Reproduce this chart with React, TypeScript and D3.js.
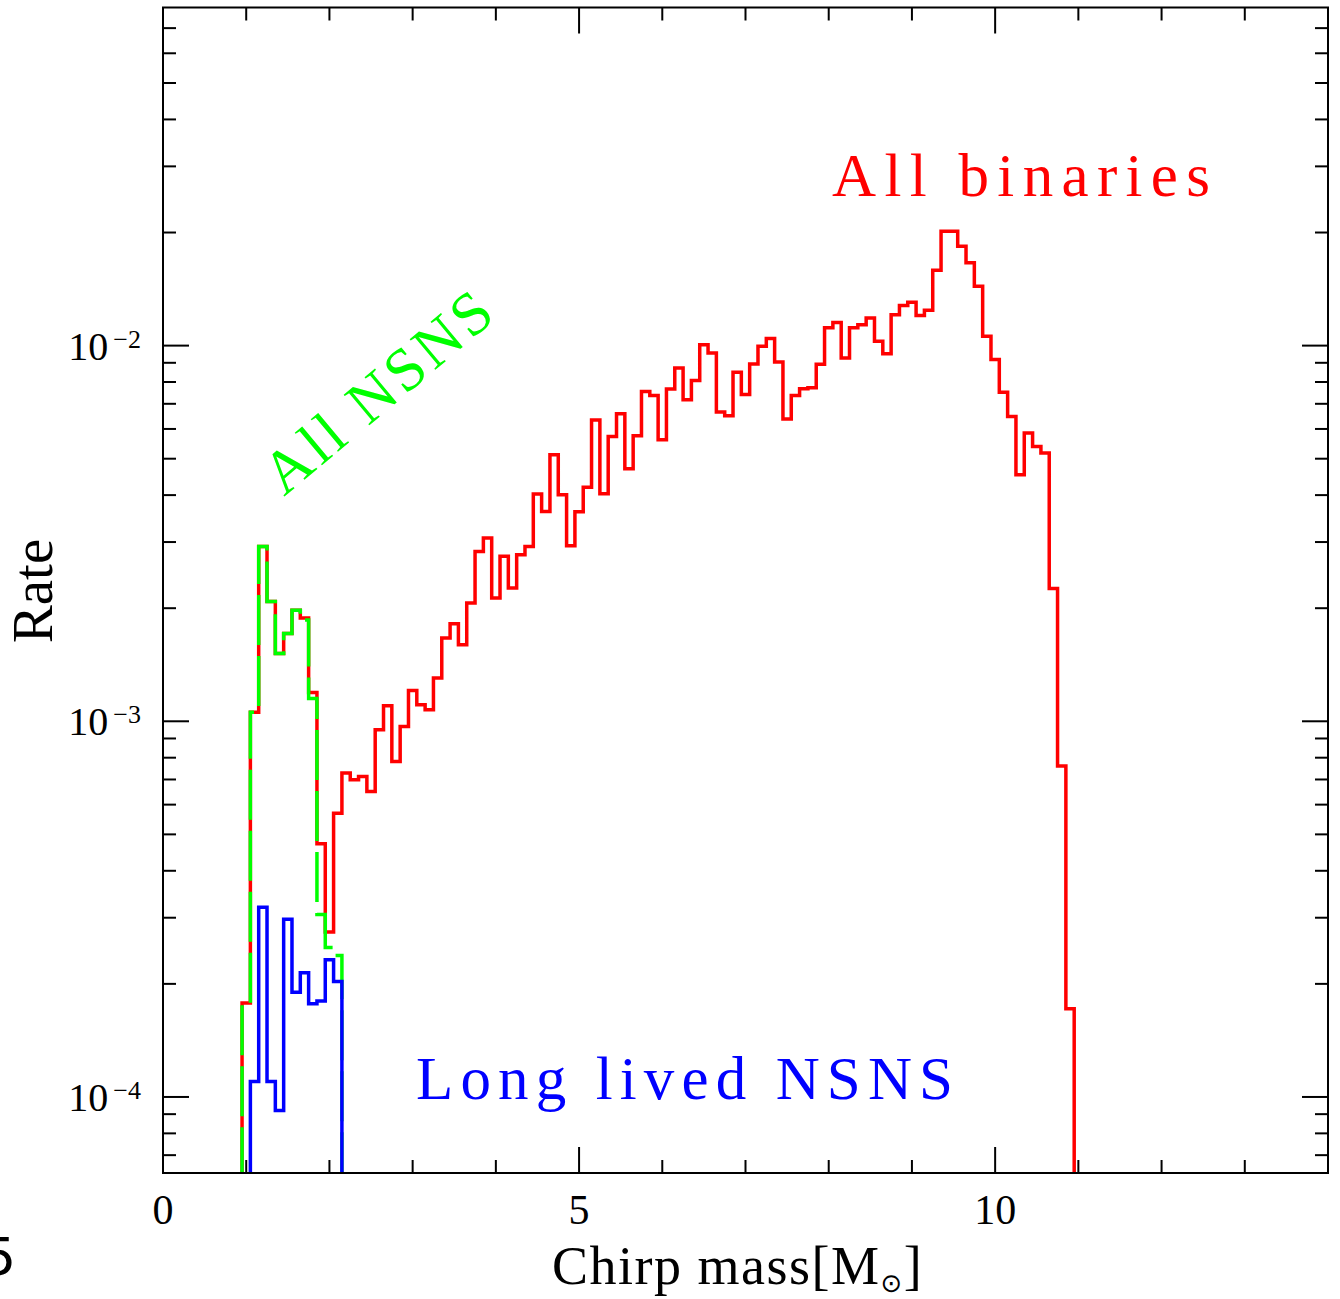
import React from 'react';
import * as d3 from 'd3';

// ---- data ----
const binWidth = 0.1;
const allBinariesStart = 0.95;
const allNSNSStart = 0.95;
const longLivedStart = 1.05;

const allBinaries = [
  1.78e-4, 1.057e-3, 2.92e-3, 2.085e-3, 1.514e-3, 1.713e-3, 1.974e-3, 1.884e-3, 1.193e-3, 4.72e-4,
  2.75e-4, 5.69e-4, 7.28e-4, 6.99e-4, 7.13e-4, 6.5e-4, 9.49e-4, 1.1e-3, 7.82e-4, 9.69e-4,
  1.208e-3, 1.106e-3, 1.073e-3, 1.303e-3, 1.666e-3, 1.818e-3, 1.599e-3, 2.064e-3, 2.833e-3, 3.075e-3,
  2.129e-3, 2.748e-3, 2.263e-3, 2.777e-3, 2.921e-3, 4.027e-3, 3.62e-3, 5.125e-3, 4.01e-3, 2.934e-3,
  3.613e-3, 4.199e-3, 6.34e-3, 4.035e-3, 5.733e-3, 6.59e-3, 4.703e-3, 5.757e-3, 7.55e-3, 7.36e-3,
  5.62e-3, 7.67e-3, 8.72e-3, 7.18e-3, 8.08e-3, 1.006e-2, 9.56e-3, 6.66e-3, 6.51e-3, 8.49e-3,
  7.41e-3, 8.94e-3, 9.96e-3, 1.044e-2, 9.05e-3, 6.38e-3, 7.36e-3, 7.68e-3, 7.72e-3, 8.92e-3,
  1.115e-2, 1.152e-2, 9.27e-3, 1.115e-2, 1.137e-2, 1.185e-2, 1.027e-2, 9.52e-3, 1.209e-2, 1.278e-2,
  1.304e-2, 1.202e-2, 1.242e-2, 1.586e-2, 2.016e-2, 2.016e-2, 1.838e-2, 1.661e-2, 1.439e-2, 1.059e-2,
  9.18e-3, 7.51e-3, 6.48e-3, 4.53e-3, 5.85e-3, 5.39e-3, 5.18e-3, 2.256e-3, 7.6e-4, 1.718e-4,
];

const allNSNS = [
  1.78e-4, 1.057e-3, 2.92e-3, 2.085e-3, 1.514e-3, 1.713e-3, 1.974e-3, 1.86e-3, 1.15e-3, 3.06e-4,
  2.5e-4, 2.38e-4,
];

const longLivedNSNS = [
  1.1e-4, 3.2e-4, 1.1e-4, 9.2e-5, 2.97e-4, 1.9e-4, 2.14e-4, 1.77e-4, 1.8e-4, 2.32e-4, 2.03e-4,
];

const xDomain = [0, 14];
const yDomain = [Math.pow(10, -4.2024), Math.pow(10, -1.1)];
const xMajorTicks = [0, 5, 10];
const xMinorTicks = d3.range(0, 15);
const yMajorExponents = [-4, -3, -2];

// ---- layout ----
const W = 1340;
const H = 1299;
const L = 163;
const R = 1328;
const T = 7.5;
const B = 1173;
const FONT = '"Liberation Serif", "Times New Roman", serif';

const x = d3.scaleLinear().domain(xDomain).range([L, R]);
const y = d3.scaleLog().domain(yDomain).range([B, T]);

function stepPath(values: number[], start: number): string {
  const floor = 1e-6;
  const n = values.length;
  const pts: [number, number][] = [[start, floor]];
  values.forEach((v, i) => pts.push([start + i * binWidth, v]));
  pts.push([start + n * binWidth, values[n - 1]]);
  pts.push([start + n * binWidth, floor]);
  return (
    d3
      .line<[number, number]>()
      .x((d) => x(d[0]))
      .y((d) => y(d[1]))
      .curve(d3.curveStepAfter)(pts) || ''
  );
}

export default function App() {
  const yTicks = y.ticks();
  const isMajorY = (v: number) => Math.abs(Math.log10(v) - Math.round(Math.log10(v))) < 1e-6;
  const minorLen = 13;
  const majorLen = 26;

  return (
    <svg
      width={W}
      height={H}
      viewBox={`0 0 ${W} ${H}`}
      style={{ position: 'absolute', left: 0, top: 0, background: '#fff' }}
    >
      <defs>
        <clipPath id="plotClip">
          <rect x={L} y={T} width={R - L} height={B - T} />
        </clipPath>
      </defs>
      <rect x={0} y={0} width={W} height={H} fill="#fff" />

      {/* histograms */}
      <g clipPath="url(#plotClip)" fill="none" strokeLinejoin="miter">
        <path d={stepPath(allBinaries, allBinariesStart)} stroke="#ff0000" strokeWidth={3.5} />
        <path
          d={stepPath(allNSNS, allNSNSStart)}
          stroke="#00ff00"
          strokeWidth={3.5}
          strokeDasharray="50 11"
        />
        <path d={stepPath(longLivedNSNS, longLivedStart)} stroke="#0000ff" strokeWidth={3.5} />
      </g>

      {/* frame */}
      <rect x={L} y={T} width={R - L} height={B - T} fill="none" stroke="#000" strokeWidth={2} />

      {/* ticks */}
      <g stroke="#000" strokeWidth={2}>
        {xMinorTicks.map((t) => {
          const len = xMajorTicks.includes(t) ? majorLen : minorLen;
          return (
            <g key={'xt' + t}>
              <line x1={x(t)} x2={x(t)} y1={B} y2={B - len} />
              <line x1={x(t)} x2={x(t)} y1={T} y2={T + len} />
            </g>
          );
        })}
        {yTicks.map((t, i) => {
          const len = isMajorY(t) ? majorLen : minorLen;
          return (
            <g key={'yt' + i}>
              <line x1={L} x2={L + len} y1={y(t)} y2={y(t)} />
              <line x1={R} x2={R - len} y1={y(t)} y2={y(t)} />
            </g>
          );
        })}
      </g>

      {/* x tick labels */}
      <g fontFamily={FONT} fontSize={42} fill="#000" textAnchor="middle">
        {xMajorTicks.map((t) => (
          <text key={'xl' + t} x={x(t)} y={1224}>
            {String(t)}
          </text>
        ))}
      </g>

      {/* y tick labels */}
      <g fontFamily={FONT} fill="#000">
        {yMajorExponents.map((e) => (
          <text key={'yl' + e} x={141} y={y(Math.pow(10, e)) + 14} textAnchor="end">
            <tspan fontSize={40}>10</tspan>
            <tspan fontSize={26} dx={5} dy={-12}>
              {'\u2212' + String(-e)}
            </tspan>
          </text>
        ))}
      </g>

      {/* axis titles */}
      <text
        fontFamily={FONT}
        fontSize={57}
        fill="#000"
        textAnchor="middle"
        transform={`translate(52, 591) rotate(-90)`}
      >
        Rate
      </text>
      <text fontFamily={FONT} fontSize={54} fill="#000" x={552} y={1284} letterSpacing={1.5}>
        <tspan>Chirp mass[M</tspan>
        <tspan fontSize={26} dy={8} fontFamily='"DejaVu Sans", sans-serif'>
          {'\u2299'}
        </tspan>
        <tspan dy={-8}>]</tspan>
      </text>

      {/* annotations */}
      <text
        fontFamily={FONT}
        fontSize={61}
        fill="#ff0000"
        x={832}
        y={196}
        textLength={378}
        lengthAdjust="spacing"
      >
        All binaries
      </text>
      <text
        fontFamily={FONT}
        fontSize={61}
        fill="#0000ff"
        x={416}
        y={1099}
        textLength={537}
        lengthAdjust="spacing"
      >
        Long lived NSNS
      </text>
      <text
        fontFamily={FONT}
        fontSize={61}
        fill="#00ff00"
        transform="translate(284, 497) rotate(-40)"
        textLength={278}
        lengthAdjust="spacing"
      >
        All NSNS
      </text>

      {/* clipped fragment from neighbouring panel */}
      <text fontFamily='"DejaVu Sans", sans-serif' fontSize={52} fill="#000" x={-17} y={1275}>
        5
      </text>
    </svg>
  );
}
